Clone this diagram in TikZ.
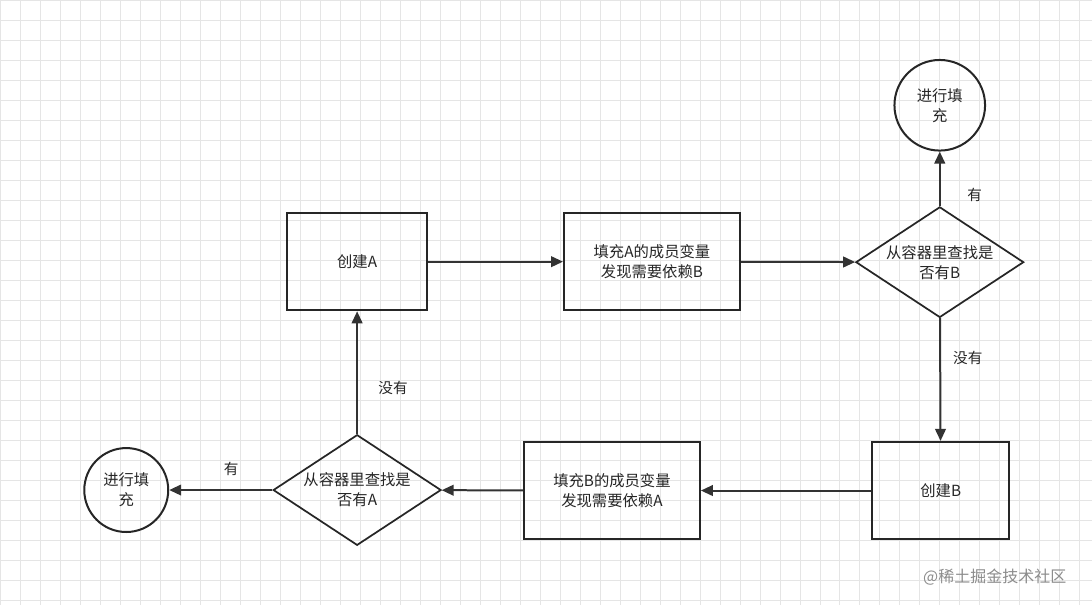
\documentclass[tikz,border=0pt]{standalone}
\usepackage{fontspec}
\setmainfont{Noto Sans CJK SC}
\usetikzlibrary{shapes.geometric,arrows.meta}
\begin{document}
\begin{tikzpicture}[x=0.75pt,y=0.75pt,yscale=-1,
  every node/.style={font=\fontsize{11.5}{15}\selectfont, text=black!85},
  box/.style={draw=black!85, line width=1.5pt, minimum width=105pt, minimum height=73pt, align=center},
  dec/.style={diamond, draw=black!85, line width=1.3pt, minimum width=126pt, minimum height=83pt, aspect=1.55, inner sep=0pt, align=center},
  term/.style={circle, draw=black!85, line width=1.5pt, minimum size=68pt, inner sep=0pt, align=center},
  flow/.style={draw=black!80, line width=1.5pt, -{Triangle[length=9pt,width=8pt]}},
  lbl/.style={font=\fontsize{11}{14}\selectfont}]
\fill[white] (0,0) rectangle (1092,605);
\draw[black!10, line width=0.5pt, step=20] (0,0) grid (1092,605);
\useasboundingbox (0,0) rectangle (1092,605);

\node[box] (ca) at (357,261.5) {创建A};
\node[box, minimum width=132pt] (fa) at (652,261.5) {填充A的成员变量\\发现需要依赖B};
\node[dec] (d1) at (940,262) {从容器里查找是\\否有B};
\node[term] (t1) at (940,105) {进行填\\充};
\node[box, minimum width=103pt] (cb) at (941,490.5) {创建B};
\node[box, minimum width=132pt] (fb) at (612,490.5) {填充B的成员变量\\发现需要依赖A};
\node[dec] (d2) at (357,490) {从容器里查找是\\否有A};
\node[term, minimum size=63pt] (t2) at (126,490) {进行填\\充};

\draw[flow] (ca) -- (fa);
\draw[flow] (fa) -- (d1);
\draw[flow] (d1) -- (t1);
\draw[flow] (d1) -- (cb);
\draw[flow] (cb) -- (fb);
\draw[flow] (fb) -- (d2);
\draw[flow] (d2) -- (t2);
\draw[flow] (d2) -- (ca);

\node[lbl] (l1) at (975,195) {有};
\node[lbl] (l2) at (968,358) {没有};
\node[lbl] (l3) at (231,469) {有};
\node[lbl] (l4) at (393,388) {没有};
\node[font=\fontsize{12}{14}\selectfont, text=black!45] (wm) at (995,577) {@稀土掘金技术社区};
\end{tikzpicture}
\end{document}
